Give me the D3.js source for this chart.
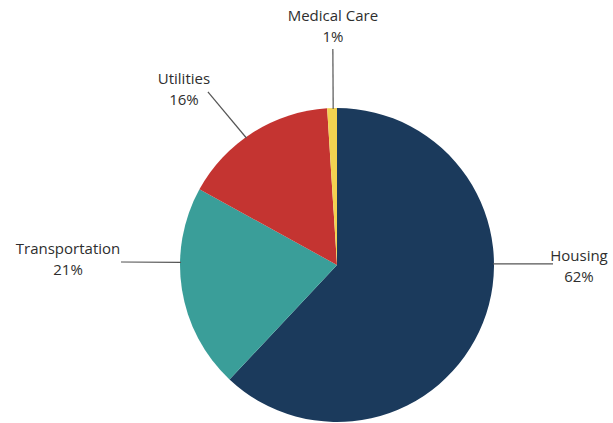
<!DOCTYPE html>
<html>
<head>
<meta charset="utf-8">
<script src="https://cdn.jsdelivr.net/npm/d3@7.9.0/dist/d3.min.js"></script>
<style>
  body { margin: 0; background: #fff; }
  text { font-family: "Open Sans", sans-serif; font-size: 15px; fill: #2e2e2e; }
</style>
</head>
<body>
<svg></svg>
<script>
const categories = ["Housing", "Transportation", "Utilities", "Medical Care"];
const shares = [62, 21, 16, 1];

const colors = ["#1b3a5c", "#3a9e99", "#c43431", "#f3d250"];

// where each leader line leaves the pie (degrees clockwise from 12 o'clock),
// the angle of its outer end, and where the label sits relative to that end
const leaders = [
    { a0: 89.6, a1: 89.7, dx: 26, dy: -3 },
    { a0: 271.0, a1: 270.8, dx: -53, dy: -8 },
    { a0: 324.5, a1: 323.3, dx: -24, dy: -8 },
    { a0: 358.6, a1: 358.9, dx: 0, dy: -28 }
];

const width = 613;
const height = 423;
const cx = 337, cy = 265, radius = 157;

const svg = d3.select("svg")
    .attr("width", width)
    .attr("height", height);

const g = svg.append("g")
    .attr("transform", `translate(${cx},${cy})`);

const pie = d3.pie().sort(null).value(d => d);
const arc = d3.arc().innerRadius(0).outerRadius(radius);

g.selectAll(".slice")
    .data(pie(shares))
    .enter().append("path")
    .attr("class", "slice")
    .attr("d", arc)
    .attr("fill", (d, i) => colors[i]);

function polar(r, deg) {
    const a = deg * Math.PI / 180;
    return [r * Math.sin(a), -r * Math.cos(a)];
}

categories.forEach(function(name, i) {
    const l = leaders[i];
    const p0 = polar(radius - 1, l.a0);
    const p1 = polar(radius + 59, l.a1);

    g.append("line")
        .attr("x1", p0[0]).attr("y1", p0[1])
        .attr("x2", p1[0]).attr("y2", p1[1])
        .attr("stroke", "#555")
        .attr("stroke-width", 1.2);

    const t = g.append("text")
        .attr("text-anchor", "middle")
        .attr("x", p1[0] + l.dx)
        .attr("y", p1[1] + l.dy);
    t.append("tspan").text(name);
    t.append("tspan")
        .attr("x", p1[0] + l.dx)
        .attr("dy", 21)
        .text(shares[i] + "%");
});
</script>
</body>
</html>
